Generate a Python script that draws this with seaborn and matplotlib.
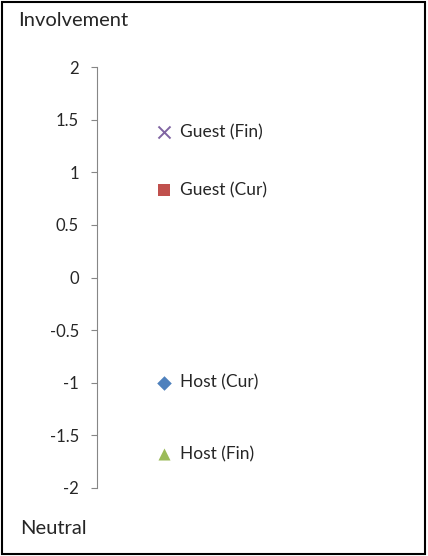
import matplotlib
matplotlib.use("Agg")
import matplotlib.pyplot as plt
import seaborn as sns
import pandas as pd
from matplotlib.patches import Rectangle

# data
labels = ["Guest (Fin)", "Guest (Cur)", "Host (Cur)", "Host (Fin)"]
values = [1.38, 0.83, -1.0, -1.68]
markers = ["x", "s", "D", "^"]
colors = ["#8064A2", "#C0504D", "#4F81BD", "#9BBB59"]
yticks = [-2, -1.5, -1, -0.5, 0, 0.5, 1, 1.5, 2]

sns.set_style("white")
plt.rcParams['font.family'] = ['Lato', 'DejaVu Sans']

df = pd.DataFrame({"who": labels, "score": values, "x": [0.223] * len(labels)})

fig = plt.figure(figsize=(4.28, 5.56), dpi=100)
ax = fig.add_axes([97 / 428, 1 - 488 / 556, 300 / 428, 421 / 556])

for lab, mk, col in zip(labels, markers, colors):
    sub = df[df.who == lab]
    size = {"x": 75, "s": 70, "D": 55, "^": 75}[mk]
    sns.scatterplot(data=sub, x="x", y="score", marker=mk, color=col,
                    s=size, linewidth=1.4 if mk == "x" else 0, ax=ax, legend=False)

for lab, v in zip(labels, values):
    ax.text(0.277, v, lab, va="center", ha="left", fontsize=12.5)

ax.set_xlim(0, 1)
ax.set_ylim(-2, 2)
ax.set_yticks(yticks)
ax.set_yticklabels([f"{t:g}" for t in yticks], fontsize=12)
ax.set_xticks([])
ax.set_xlabel("")
ax.set_ylabel("")
for s in ["top", "right", "bottom"]:
    ax.spines[s].set_visible(False)
ax.spines["left"].set_color("#868686")
ax.spines["left"].set_linewidth(0.8)
ax.tick_params(axis="y", direction="out", length=4, color="#868686", width=0.8, pad=9, left=True)

fig.text(18 / 428, 1 - 20 / 556, "Involvement", fontsize=14.5, va="center", ha="left")
fig.text(20 / 428, 1 - 529 / 556, "Neutral", fontsize=14.5, va="center", ha="left")

fig.patches.append(Rectangle((0.004, 0.003), 0.99, 0.994, transform=fig.transFigure,
                             fill=False, edgecolor="black", linewidth=1.5))

fig.savefig("out.png", dpi=100)
